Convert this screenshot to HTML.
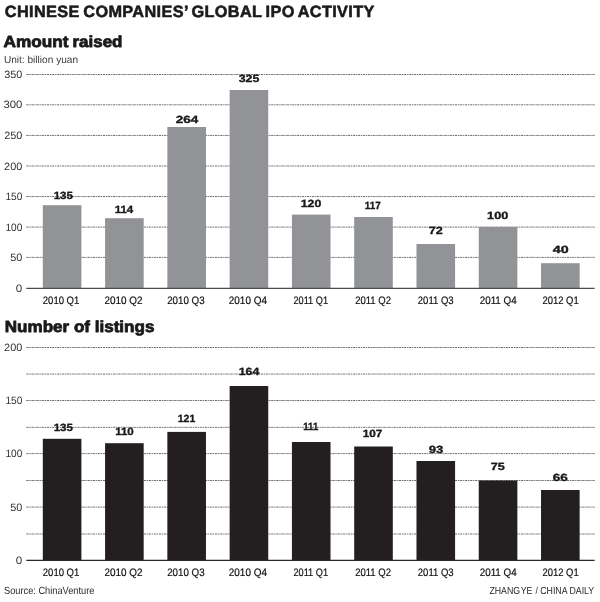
<!DOCTYPE html>
<html><head><meta charset="utf-8"><title>Chinese companies' global IPO activity</title>
<style>html,body{margin:0;padding:0;background:#fff}</style></head>
<body>
<svg width="600" height="602" viewBox="0 0 600 602" style="display:block" text-rendering="geometricPrecision" font-family='"Liberation Sans", sans-serif'>
<rect width="600" height="602" fill="#fff"/>
<text x="4.8" y="17.3" font-size="16.3" font-weight="bold" fill="#1a1a1a" textLength="369.6" lengthAdjust="spacing" word-spacing="-1.4" stroke="#1a1a1a" stroke-width="0.55">CHINESE COMPANIES’ GLOBAL IPO ACTIVITY</text>
<text y="46.7" font-size="16" font-weight="bold" fill="#1a1a1a" stroke="#1a1a1a" stroke-width="0.8" stroke-linejoin="round"><tspan x="3.6" textLength="65.0" lengthAdjust="spacingAndGlyphs">Amount</tspan> <tspan x="72.5" textLength="49.9" lengthAdjust="spacingAndGlyphs">raised</tspan></text>
<text x="3.9" y="62.9" font-size="10.2" font-weight="normal" text-anchor="start" fill="#3a3a3a" textLength="74.2" lengthAdjust="spacingAndGlyphs">Unit: billion yuan</text>
<text x="4.8" y="331.8" font-size="16" font-weight="bold" text-anchor="start" fill="#1a1a1a" textLength="149.6" lengthAdjust="spacingAndGlyphs" stroke="#1a1a1a" stroke-width="0.8" stroke-linejoin="round">Number of listings</text>
<text x="4.0" y="594.0" font-size="10.4" font-weight="normal" text-anchor="start" fill="#2a2a2a" textLength="90.4" lengthAdjust="spacingAndGlyphs">Source: ChinaVenture</text>
<text y="594.2" font-size="10.2" fill="#2a2a2a"><tspan x="489.4" textLength="43.0" lengthAdjust="spacingAndGlyphs" word-spacing="-2">ZHANG YE</tspan> <tspan x="535.4" textLength="58.8" lengthAdjust="spacingAndGlyphs">/ CHINA DAILY</tspan></text>
<line x1="26.3" x2="594.6" y1="74.5" y2="74.5" stroke="#636363" stroke-width="0.9" stroke-dasharray="2.4 0.7 1.3 0.7"/>
<line x1="26.3" x2="594.6" y1="104.8" y2="104.8" stroke="#636363" stroke-width="0.9" stroke-dasharray="2.4 0.7 1.3 0.7"/>
<line x1="26.3" x2="594.6" y1="135.45" y2="135.45" stroke="#636363" stroke-width="0.9" stroke-dasharray="2.4 0.7 1.3 0.7"/>
<line x1="26.3" x2="594.6" y1="166.0" y2="166.0" stroke="#636363" stroke-width="0.9" stroke-dasharray="2.4 0.7 1.3 0.7"/>
<line x1="26.3" x2="594.6" y1="196.55" y2="196.55" stroke="#636363" stroke-width="0.9" stroke-dasharray="2.4 0.7 1.3 0.7"/>
<line x1="26.3" x2="594.6" y1="227.1" y2="227.1" stroke="#636363" stroke-width="0.9" stroke-dasharray="2.4 0.7 1.3 0.7"/>
<line x1="26.3" x2="594.6" y1="257.4" y2="257.4" stroke="#636363" stroke-width="0.9" stroke-dasharray="2.4 0.7 1.3 0.7"/>
<text x="22.3" y="78.15" font-size="10.6" font-weight="normal" text-anchor="end" fill="#333" textLength="18.1" lengthAdjust="spacingAndGlyphs">350</text>
<text x="22.3" y="108.45" font-size="10.6" font-weight="normal" text-anchor="end" fill="#333" textLength="18.9" lengthAdjust="spacingAndGlyphs">300</text>
<text x="22.3" y="139.1" font-size="10.6" font-weight="normal" text-anchor="end" fill="#333" textLength="18.1" lengthAdjust="spacingAndGlyphs">250</text>
<text x="22.3" y="169.65" font-size="10.6" font-weight="normal" text-anchor="end" fill="#333" textLength="18.2" lengthAdjust="spacingAndGlyphs">200</text>
<text x="22.3" y="200.2" font-size="10.6" font-weight="normal" text-anchor="end" fill="#333" textLength="16.9" lengthAdjust="spacingAndGlyphs">150</text>
<text x="22.3" y="230.75" font-size="10.6" font-weight="normal" text-anchor="end" fill="#333" textLength="16.9" lengthAdjust="spacingAndGlyphs">100</text>
<text x="22.3" y="261.05" font-size="10.6" font-weight="normal" text-anchor="end" fill="#333" textLength="12.1" lengthAdjust="spacingAndGlyphs">50</text>
<text x="22.3" y="291.75" font-size="10.6" font-weight="normal" text-anchor="end" fill="#333" textLength="6.5" lengthAdjust="spacingAndGlyphs">0</text>
<rect x="42.80" y="205.20" width="38.6" height="83.10" fill="#919396"/>
<text x="63.3" y="198.5" font-size="10.4" font-weight="bold" text-anchor="middle" fill="#1a1a1a" textLength="19.2" lengthAdjust="spacingAndGlyphs" stroke="#1a1a1a" stroke-width="0.35" stroke-linejoin="round">135</text>
<text x="42.8" y="303.6" font-size="10.8" font-weight="normal" text-anchor="start" fill="#111" textLength="36.5" lengthAdjust="spacingAndGlyphs" stroke="#111" stroke-width="0.2">2010 Q1</text>
<rect x="105.08" y="218.20" width="38.6" height="70.10" fill="#919396"/>
<text x="124.0" y="213.3" font-size="10.4" font-weight="bold" text-anchor="middle" fill="#1a1a1a" textLength="18.6" lengthAdjust="spacingAndGlyphs" stroke="#1a1a1a" stroke-width="0.35" stroke-linejoin="round">114</text>
<text x="104.5" y="303.6" font-size="10.8" font-weight="normal" text-anchor="start" fill="#111" textLength="38.1" lengthAdjust="spacingAndGlyphs" stroke="#111" stroke-width="0.2">2010 Q2</text>
<rect x="167.36" y="127.00" width="38.6" height="161.30" fill="#919396"/>
<text x="187.0" y="122.9" font-size="10.4" font-weight="bold" text-anchor="middle" fill="#1a1a1a" textLength="22.6" lengthAdjust="spacingAndGlyphs" stroke="#1a1a1a" stroke-width="0.35" stroke-linejoin="round">264</text>
<text x="167.2" y="303.6" font-size="10.8" font-weight="normal" text-anchor="start" fill="#111" textLength="37.4" lengthAdjust="spacingAndGlyphs" stroke="#111" stroke-width="0.2">2010 Q3</text>
<rect x="229.64" y="90.00" width="38.6" height="198.30" fill="#919396"/>
<text x="249.0" y="82.3" font-size="10.4" font-weight="bold" text-anchor="middle" fill="#1a1a1a" textLength="20.6" lengthAdjust="spacingAndGlyphs" stroke="#1a1a1a" stroke-width="0.35" stroke-linejoin="round">325</text>
<text x="228.8" y="303.6" font-size="10.8" font-weight="normal" text-anchor="start" fill="#111" textLength="38.2" lengthAdjust="spacingAndGlyphs" stroke="#111" stroke-width="0.2">2010 Q4</text>
<rect x="291.92" y="214.60" width="38.6" height="73.70" fill="#919396"/>
<text x="311.0" y="206.9" font-size="10.4" font-weight="bold" text-anchor="middle" fill="#1a1a1a" textLength="20.6" lengthAdjust="spacingAndGlyphs" stroke="#1a1a1a" stroke-width="0.35" stroke-linejoin="round">120</text>
<text x="293.5" y="303.6" font-size="10.8" font-weight="normal" text-anchor="start" fill="#111" textLength="34.5" lengthAdjust="spacingAndGlyphs" stroke="#111" stroke-width="0.2">2011 Q1</text>
<rect x="354.20" y="217.00" width="38.6" height="71.30" fill="#919396"/>
<text x="372.7" y="208.9" font-size="10.4" font-weight="bold" text-anchor="middle" fill="#1a1a1a" textLength="16.0" lengthAdjust="spacingAndGlyphs" stroke="#1a1a1a" stroke-width="0.35" stroke-linejoin="round">117</text>
<text x="355.2" y="303.6" font-size="10.8" font-weight="normal" text-anchor="start" fill="#111" textLength="35.8" lengthAdjust="spacingAndGlyphs" stroke="#111" stroke-width="0.2">2011 Q2</text>
<rect x="416.48" y="244.00" width="38.6" height="44.30" fill="#919396"/>
<text x="435.7" y="234.3" font-size="10.4" font-weight="bold" text-anchor="middle" fill="#1a1a1a" textLength="14.0" lengthAdjust="spacingAndGlyphs" stroke="#1a1a1a" stroke-width="0.35" stroke-linejoin="round">72</text>
<text x="417.8" y="303.6" font-size="10.8" font-weight="normal" text-anchor="start" fill="#111" textLength="35.8" lengthAdjust="spacingAndGlyphs" stroke="#111" stroke-width="0.2">2011 Q3</text>
<rect x="478.76" y="227.00" width="38.6" height="61.30" fill="#919396"/>
<text x="497.7" y="218.9" font-size="10.4" font-weight="bold" text-anchor="middle" fill="#1a1a1a" textLength="21.2" lengthAdjust="spacingAndGlyphs" stroke="#1a1a1a" stroke-width="0.35" stroke-linejoin="round">100</text>
<text x="479.7" y="303.6" font-size="10.8" font-weight="normal" text-anchor="start" fill="#111" textLength="37.0" lengthAdjust="spacingAndGlyphs" stroke="#111" stroke-width="0.2">2011 Q4</text>
<rect x="541.04" y="263.20" width="38.6" height="25.10" fill="#919396"/>
<text x="560.65" y="253.2" font-size="10.4" font-weight="bold" text-anchor="middle" fill="#1a1a1a" textLength="15.9" lengthAdjust="spacingAndGlyphs" stroke="#1a1a1a" stroke-width="0.35" stroke-linejoin="round">40</text>
<text x="542.5" y="303.6" font-size="10.8" font-weight="normal" text-anchor="start" fill="#111" textLength="36.2" lengthAdjust="spacingAndGlyphs" stroke="#111" stroke-width="0.2">2012 Q1</text>
<line x1="26.3" x2="594.6" y1="288.3" y2="288.3" stroke="#4d4d4f" stroke-width="1.2"/>
<line x1="26.3" x2="594.6" y1="347.5" y2="347.5" stroke="#636363" stroke-width="0.9" stroke-dasharray="2.4 0.7 1.3 0.7"/>
<line x1="26.3" x2="594.6" y1="374.05" y2="374.05" stroke="#636363" stroke-width="0.9" stroke-dasharray="2.4 0.7 1.3 0.7"/>
<line x1="26.3" x2="594.6" y1="400.5" y2="400.5" stroke="#636363" stroke-width="0.9" stroke-dasharray="2.4 0.7 1.3 0.7"/>
<line x1="26.3" x2="594.6" y1="427.35" y2="427.35" stroke="#636363" stroke-width="0.9" stroke-dasharray="2.4 0.7 1.3 0.7"/>
<line x1="26.3" x2="594.6" y1="453.6" y2="453.6" stroke="#636363" stroke-width="0.9" stroke-dasharray="2.4 0.7 1.3 0.7"/>
<line x1="26.3" x2="594.6" y1="480.5" y2="480.5" stroke="#636363" stroke-width="0.9" stroke-dasharray="2.4 0.7 1.3 0.7"/>
<line x1="26.3" x2="594.6" y1="507.1" y2="507.1" stroke="#636363" stroke-width="0.9" stroke-dasharray="2.4 0.7 1.3 0.7"/>
<line x1="26.3" x2="594.6" y1="534.0" y2="534.0" stroke="#636363" stroke-width="0.9" stroke-dasharray="2.4 0.7 1.3 0.7"/>
<text x="22.3" y="351.15" font-size="10.6" font-weight="normal" text-anchor="end" fill="#333" textLength="18.2" lengthAdjust="spacingAndGlyphs">200</text>
<text x="22.3" y="404.15" font-size="10.6" font-weight="normal" text-anchor="end" fill="#333" textLength="16.9" lengthAdjust="spacingAndGlyphs">150</text>
<text x="22.3" y="457.25" font-size="10.6" font-weight="normal" text-anchor="end" fill="#333" textLength="16.9" lengthAdjust="spacingAndGlyphs">100</text>
<text x="22.3" y="510.75" font-size="10.6" font-weight="normal" text-anchor="end" fill="#333" textLength="12.1" lengthAdjust="spacingAndGlyphs">50</text>
<text x="22.3" y="563.65" font-size="10.6" font-weight="normal" text-anchor="end" fill="#333" textLength="6.5" lengthAdjust="spacingAndGlyphs">0</text>
<rect x="42.80" y="438.80" width="38.6" height="121.55" fill="#231f20"/>
<text x="63.3" y="431.2" font-size="10.4" font-weight="bold" text-anchor="middle" fill="#1a1a1a" textLength="19.2" lengthAdjust="spacingAndGlyphs" stroke="#1a1a1a" stroke-width="0.35" stroke-linejoin="round">135</text>
<text x="42.8" y="576.15" font-size="10.8" font-weight="normal" text-anchor="start" fill="#111" textLength="36.5" lengthAdjust="spacingAndGlyphs" stroke="#111" stroke-width="0.2">2010 Q1</text>
<rect x="105.08" y="443.20" width="38.6" height="117.15" fill="#231f20"/>
<text x="124.5" y="435" font-size="10.4" font-weight="bold" text-anchor="middle" fill="#1a1a1a" textLength="18.6" lengthAdjust="spacingAndGlyphs" stroke="#1a1a1a" stroke-width="0.35" stroke-linejoin="round">110</text>
<text x="104.5" y="576.15" font-size="10.8" font-weight="normal" text-anchor="start" fill="#111" textLength="38.1" lengthAdjust="spacingAndGlyphs" stroke="#111" stroke-width="0.2">2010 Q2</text>
<rect x="167.36" y="431.90" width="38.6" height="128.45" fill="#231f20"/>
<text x="186.5" y="422" font-size="10.4" font-weight="bold" text-anchor="middle" fill="#1a1a1a" textLength="17.6" lengthAdjust="spacingAndGlyphs" stroke="#1a1a1a" stroke-width="0.35" stroke-linejoin="round">121</text>
<text x="167.2" y="576.15" font-size="10.8" font-weight="normal" text-anchor="start" fill="#111" textLength="37.4" lengthAdjust="spacingAndGlyphs" stroke="#111" stroke-width="0.2">2010 Q3</text>
<rect x="229.64" y="386.00" width="38.6" height="174.35" fill="#231f20"/>
<text x="249.0" y="375.2" font-size="10.4" font-weight="bold" text-anchor="middle" fill="#1a1a1a" textLength="20.6" lengthAdjust="spacingAndGlyphs" stroke="#1a1a1a" stroke-width="0.35" stroke-linejoin="round">164</text>
<text x="228.8" y="576.15" font-size="10.8" font-weight="normal" text-anchor="start" fill="#111" textLength="38.2" lengthAdjust="spacingAndGlyphs" stroke="#111" stroke-width="0.2">2010 Q4</text>
<rect x="291.92" y="442.00" width="38.6" height="118.35" fill="#231f20"/>
<text x="310.8" y="430.4" font-size="10.4" font-weight="bold" text-anchor="middle" fill="#1a1a1a" textLength="15.0" lengthAdjust="spacingAndGlyphs" stroke="#1a1a1a" stroke-width="0.35" stroke-linejoin="round">111</text>
<text x="293.5" y="576.15" font-size="10.8" font-weight="normal" text-anchor="start" fill="#111" textLength="34.5" lengthAdjust="spacingAndGlyphs" stroke="#111" stroke-width="0.2">2011 Q1</text>
<rect x="354.20" y="446.50" width="38.6" height="113.85" fill="#231f20"/>
<text x="372.5" y="437" font-size="10.4" font-weight="bold" text-anchor="middle" fill="#1a1a1a" textLength="19.6" lengthAdjust="spacingAndGlyphs" stroke="#1a1a1a" stroke-width="0.35" stroke-linejoin="round">107</text>
<text x="355.2" y="576.15" font-size="10.8" font-weight="normal" text-anchor="start" fill="#111" textLength="35.8" lengthAdjust="spacingAndGlyphs" stroke="#111" stroke-width="0.2">2011 Q2</text>
<rect x="416.48" y="461.00" width="38.6" height="99.35" fill="#231f20"/>
<text x="436.0" y="453" font-size="10.4" font-weight="bold" text-anchor="middle" fill="#1a1a1a" textLength="14.6" lengthAdjust="spacingAndGlyphs" stroke="#1a1a1a" stroke-width="0.35" stroke-linejoin="round">93</text>
<text x="417.8" y="576.15" font-size="10.8" font-weight="normal" text-anchor="start" fill="#111" textLength="35.8" lengthAdjust="spacingAndGlyphs" stroke="#111" stroke-width="0.2">2011 Q3</text>
<rect x="478.76" y="480.50" width="38.6" height="79.85" fill="#231f20"/>
<text x="497.7" y="470.4" font-size="10.4" font-weight="bold" text-anchor="middle" fill="#1a1a1a" textLength="14.0" lengthAdjust="spacingAndGlyphs" stroke="#1a1a1a" stroke-width="0.35" stroke-linejoin="round">75</text>
<text x="479.7" y="576.15" font-size="10.8" font-weight="normal" text-anchor="start" fill="#111" textLength="37.0" lengthAdjust="spacingAndGlyphs" stroke="#111" stroke-width="0.2">2011 Q4</text>
<rect x="541.04" y="490.00" width="38.6" height="70.35" fill="#231f20"/>
<text x="560.25" y="480.8" font-size="10.4" font-weight="bold" text-anchor="middle" fill="#1a1a1a" textLength="15.1" lengthAdjust="spacingAndGlyphs" stroke="#1a1a1a" stroke-width="0.35" stroke-linejoin="round">66</text>
<text x="542.5" y="576.15" font-size="10.8" font-weight="normal" text-anchor="start" fill="#111" textLength="36.2" lengthAdjust="spacingAndGlyphs" stroke="#111" stroke-width="0.2">2012 Q1</text>
<line x1="26.3" x2="594.6" y1="560.35" y2="560.35" stroke="#2a2627" stroke-width="1.2"/>
</svg>
</body></html>
